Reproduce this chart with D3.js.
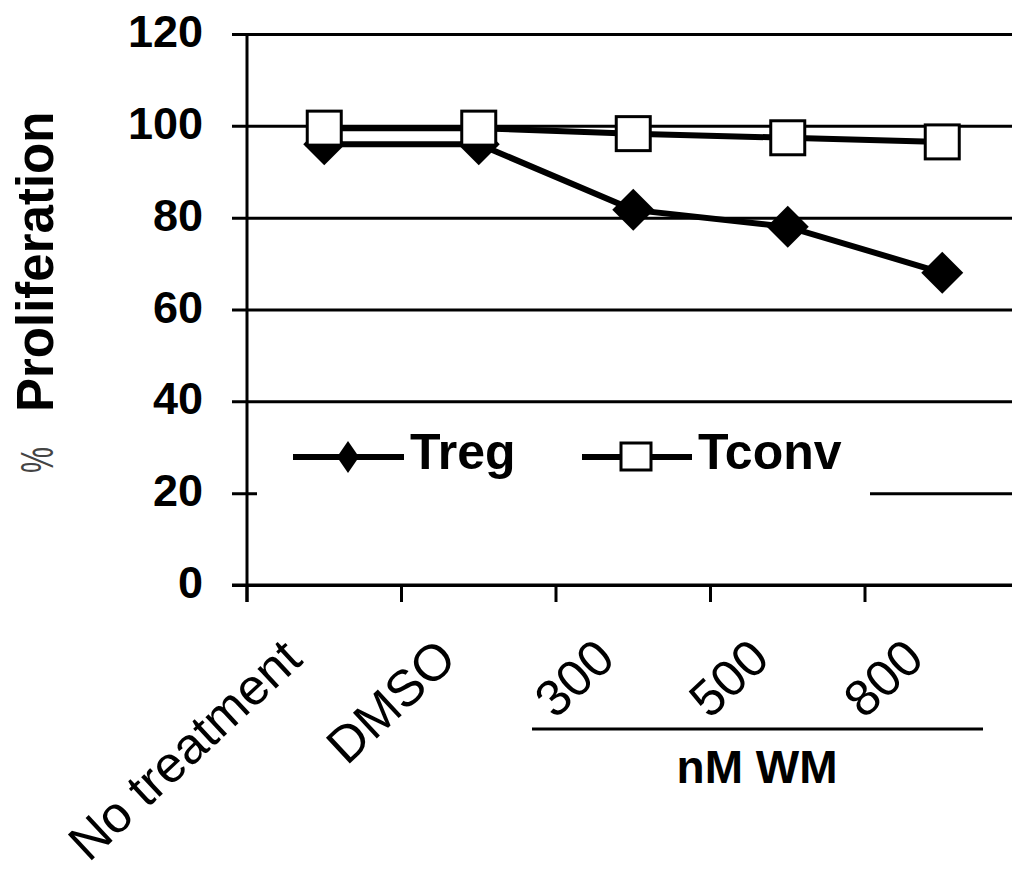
<!DOCTYPE html>
<meta charset="utf-8">
<style>
body { margin: 0; background: #fff; }
svg { display: block; font-family: "Liberation Sans", Arial, sans-serif; }
.grid line { stroke: #000; stroke-width: 3; }
.grid path { display: none; }
.ytick text { font-weight: bold; font-size: 45px; fill: #000; }
.xlab { font-size: 51px; fill: #000; }
</style>
<svg width="1012" height="883"></svg>
<script src="https://cdn.jsdelivr.net/npm/d3@7"></script>
<script>
// % proliferation, Treg vs Tconv
var categories = ["No treatment", "DMSO", "300", "500", "800"];
var treg  = [96, 96, 81.7, 78, 68];
var tconv = [99.5, 99.5, 98.3, 97.4, 96.5];
var yTicks = [0, 20, 40, 60, 80, 100, 120];

var svg = d3.select("svg");

var xScale = d3.scaleBand()
    .domain(categories)
    .range([247, 1019.5]);

var yScale = d3.scaleLinear()
    .domain([0, 120])
    .range([585, 34]);

var bw = xScale.bandwidth();
function cx(i) { return xScale(categories[i]) + bw / 2; }

// gridlines + y ticks
var yAxis = svg.append("g")
    .attr("class", "grid ytick")
    .attr("transform", "translate(247,0)")
    .call(d3.axisLeft(yScale)
        .tickValues(yTicks)
        .tickSize(-(1019.5 - 247))
        .tickPadding(44));
yAxis.selectAll("line").attr("x1", -15);
yAxis.selectAll("text").attr("dy", "0.28em");

// legend box hides part of the 20 gridline
var legend = svg.append("g");
legend.append("rect")
    .attr("x", 257).attr("y", 410)
    .attr("width", 613).attr("height", 95)
    .attr("fill", "#fff");

// y axis line
svg.append("line")
    .attr("x1", 247).attr("x2", 247)
    .attr("y1", yScale(120)).attr("y2", 602)
    .attr("stroke", "#000").attr("stroke-width", 3);

// x axis line and category ticks
svg.append("line")
    .attr("x1", 232).attr("x2", 1012)
    .attr("y1", yScale(0)).attr("y2", yScale(0))
    .attr("stroke", "#000").attr("stroke-width", 3);

svg.append("g").selectAll("line")
    .data(categories)
    .enter().append("line")
        .attr("x1", function(d) { return xScale(d); })
        .attr("x2", function(d) { return xScale(d); })
        .attr("y1", yScale(0)).attr("y2", 602)
        .attr("stroke", "#000").attr("stroke-width", 3);

svg.append("g").selectAll("text")
    .data(categories)
    .enter().append("text")
        .attr("class", "xlab")
        .attr("text-anchor", "end")
        .attr("transform", function(d, i) {
            var off = i < 2 ? 20 : 16;
            return "translate(" + (xScale(d) + bw / 2 - off) + ",662) rotate(-43)";
        })
        .text(function(d) { return d; });

// nM WM bracket
svg.append("line")
    .attr("x1", 532).attr("x2", 983)
    .attr("y1", 729).attr("y2", 729)
    .attr("stroke", "#000").attr("stroke-width", 3);
svg.append("text")
    .attr("x", 757).attr("y", 783)
    .attr("text-anchor", "middle")
    .style("font-weight", "bold").style("font-size", "46px")
    .text("nM WM");

// y label
svg.append("text")
    .attr("transform", "translate(53,473) rotate(-90)")
    .attr("textLength", 26).attr("lengthAdjust", "spacingAndGlyphs")
    .style("font-size", "46px").style("fill", "#444")
    .text("%");
svg.append("text")
    .attr("transform", "translate(53,412) rotate(-90)")
    .style("font-weight", "bold").style("font-size", "51px")
    .text("Proliferation");

function diamondPath(w, h) {
    return "M0," + (-h / 2) + "L" + (w / 2) + ",0L0," + (h / 2) + "L" + (-w / 2) + ",0Z";
}

var line = d3.line()
    .x(function(d, i) { return cx(i); })
    .y(function(d) { return yScale(d); });

// Treg
svg.append("path")
    .datum(treg)
    .attr("d", line)
    .attr("fill", "none").attr("stroke", "#000").attr("stroke-width", 6);
svg.append("g").selectAll("path")
    .data(treg)
    .enter().append("path")
        .attr("d", diamondPath(42, 42))
        .attr("transform", function(d, i) { return "translate(" + cx(i) + "," + yScale(d) + ")"; })
        .attr("fill", "#000");

// Tconv
svg.append("path")
    .datum(tconv)
    .attr("d", line)
    .attr("fill", "none").attr("stroke", "#000").attr("stroke-width", 6);
svg.append("g").selectAll("rect")
    .data(tconv)
    .enter().append("rect")
        .attr("x", function(d, i) { return cx(i) - 17; })
        .attr("y", function(d) { return yScale(d) - 17; })
        .attr("width", 34).attr("height", 34)
        .attr("fill", "#fff").attr("stroke", "#000").attr("stroke-width", 3);

// legend entries
var ly = 457;
legend.append("line")
    .attr("x1", 293).attr("x2", 404).attr("y1", ly).attr("y2", ly)
    .attr("stroke", "#000").attr("stroke-width", 6);
legend.append("path")
    .attr("d", diamondPath(22, 32))
    .attr("transform", "translate(348," + ly + ")");
legend.append("text")
    .attr("x", 410).attr("y", ly + 12)
    .style("font-weight", "bold").style("font-size", "50px")
    .text("Treg");
legend.append("line")
    .attr("x1", 582).attr("x2", 692).attr("y1", ly).attr("y2", ly)
    .attr("stroke", "#000").attr("stroke-width", 6);
legend.append("rect")
    .attr("x", 621).attr("y", ly - 14)
    .attr("width", 30).attr("height", 27)
    .attr("fill", "#fff").attr("stroke", "#000").attr("stroke-width", 3);
legend.append("text")
    .attr("x", 698).attr("y", ly + 12)
    .style("font-weight", "bold").style("font-size", "50px")
    .text("Tconv");
</script>
